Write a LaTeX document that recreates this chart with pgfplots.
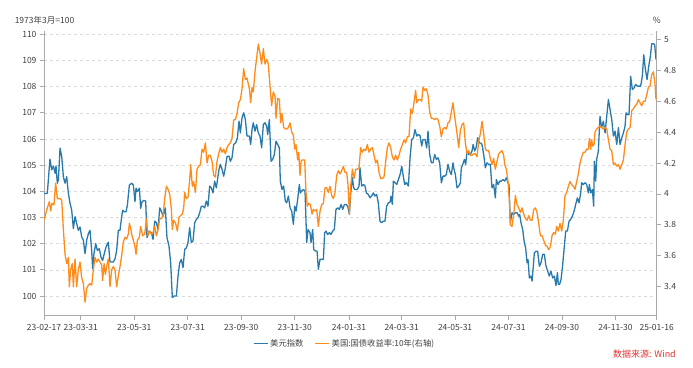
\documentclass[border=0pt]{standalone}
\usepackage{pgfplots}
\pgfplotsset{compat=1.18}
\usepackage{pgfplotstable}
\usepackage{fontspec}
\setmainfont{Noto Sans CJK SC}
\definecolor{usdblue}{RGB}{40,122,172}
\definecolor{ustorange}{RGB}{255,140,26}
\definecolor{axgray}{RGB}{170,170,170}
\definecolor{txtgray}{RGB}{64,64,64}
\definecolor{gridgray}{RGB}{218,218,218}
\definecolor{srcred}{RGB}{230,50,50}

\pgfplotstableread{
day val
0 103.92
3.8 103.92
6.8 105.23
8.8 104.82
10.7 104.97
12.6 104.69
13.7 104.97
15.2 104.31
16.4 104.44
18.3 105.65
20.2 105.33
22.1 104.56
24.0 104.31
25.9 104.56
27.8 103.92
29.7 103.54
31.6 103.28
33.5 102.58
35.4 103.03
37.3 102.77
39.2 102.51
41.1 102.64
43.0 102.26
44.9 102.13
46.8 101.62
48.7 102.13
50.6 102.38
52.5 102.51
54.4 101.74
55.5 101.04
57.0 101.62
59.0 102.00
60.9 101.74
63.1 101.81
65.0 101.49
66.9 101.36
68.8 101.62
70.7 101.87
73.4 102.06
75.3 101.30
77.2 101.30
79.1 101.30
81.0 101.42
82.9 101.74
84.8 102.51
86.7 102.51
88.6 103.03
89.8 103.28
91.3 103.22
93.6 103.22
95.1 103.47
97.4 104.24
100.0 104.31
101.9 104.24
103.8 103.60
105.0 104.12
106.5 103.99
108.8 104.12
110.3 103.35
111.8 103.60
114.0 103.65
116.0 103.63
117.5 102.23
119.8 102.48
122.5 102.42
124.4 102.16
126.3 102.86
128.2 102.80
130.1 102.54
132.0 103.37
133.9 103.24
135.8 103.05
138.4 103.37
140.3 102.23
142.6 101.91
144.5 101.27
146.4 99.94
148.3 100.00
151.0 100.00
152.9 100.76
154.8 101.27
156.7 101.40
158.6 101.08
160.5 101.78
162.4 101.84
164.3 102.04
166.2 102.61
168.1 102.04
170.0 102.10
171.9 102.80
173.8 102.93
175.7 102.99
177.6 103.18
179.5 103.43
181.4 103.43
183.3 103.37
185.2 103.63
187.1 103.43
189.0 104.20
190.9 104.13
192.8 103.94
194.7 104.39
196.6 104.13
198.5 104.58
199.7 104.84
201.2 105.03
203.1 104.84
205.0 104.58
206.9 104.90
208.8 105.34
211.1 105.34
212.6 105.15
214.5 105.28
216.4 105.79
218.7 105.85
220.6 106.04
222.5 106.68
224.0 106.23
225.9 106.81
227.8 107.00
229.7 106.74
231.6 106.11
234.3 106.11
235.8 105.79
237.3 106.36
238.8 106.62
240.7 106.30
242.6 106.55
244.5 106.23
246.4 106.11
248.3 105.66
250.2 106.55
252.1 106.62
254.0 106.49
255.2 106.17
257.1 106.74
259.0 105.15
260.9 105.22
262.8 105.41
264.7 105.92
266.6 105.79
268.5 105.66
269.6 104.39
271.5 104.07
273.4 104.20
275.3 103.63
276.9 103.56
278.8 103.82
280.7 103.37
282.6 103.24
284.5 102.74
286.0 103.43
287.5 103.24
289.4 103.69
291.3 104.26
292.5 103.94
294.0 104.01
295.9 104.07
297.8 104.01
299.7 102.04
301.2 102.54
303.5 102.42
304.6 102.04
306.5 102.54
307.7 101.78
309.6 101.72
311.5 101.72
313.0 101.02
314.9 101.40
316.8 101.40
318.7 101.40
320.2 102.42
321.7 102.48
323.6 102.35
325.5 102.42
327.4 102.35
329.3 102.48
331.2 102.54
333.1 103.31
335.0 103.37
336.9 103.31
338.9 103.50
340.8 103.31
342.7 103.50
344.6 103.50
346.5 103.43
348.4 103.12
349.9 103.94
351.8 104.52
353.3 104.13
354.8 104.07
357.5 104.07
359.4 104.20
360.5 104.90
362.4 104.20
364.7 104.26
366.2 104.20
367.8 103.94
370.0 103.88
371.9 103.75
373.8 103.82
375.7 103.94
377.6 103.82
379.5 103.88
381.4 103.56
383.3 102.86
385.2 102.80
387.1 102.86
389.0 102.86
390.9 103.43
392.9 103.56
394.8 103.58
395.9 103.82
397.4 103.50
398.6 104.39
400.5 104.33
402.4 104.26
404.3 104.45
406.2 104.64
408.1 104.96
409.6 104.64
411.5 104.26
413.4 104.33
415.7 104.20
417.6 105.28
419.5 105.98
421.4 106.04
423.3 106.36
425.2 106.11
427.1 106.17
429.0 106.13
430.9 105.73
432.4 105.98
434.7 105.98
436.6 105.66
438.1 106.30
440.0 105.41
441.9 105.09
443.8 105.09
445.7 105.41
447.6 105.22
449.5 105.28
451.4 105.09
453.3 104.33
455.2 104.58
457.1 104.58
459.0 104.64
460.9 105.03
462.8 104.77
464.7 104.64
466.6 105.09
467.4 104.90
469.3 104.64
471.2 104.13
473.1 104.20
475.0 104.32
476.1 104.90
477.7 105.03
479.6 105.22
481.1 105.03
482.6 105.54
484.5 105.41
486.4 105.41
488.3 105.54
489.5 105.79
491.4 105.54
492.9 105.66
494.8 106.05
496.7 105.85
498.2 105.85
499.7 105.79
501.6 105.41
503.5 104.90
505.4 105.09
507.3 105.03
509.2 105.03
511.1 104.13
513.0 104.26
514.9 103.75
516.1 104.45
518.0 104.26
519.9 104.39
521.8 104.39
523.7 104.45
525.6 104.39
527.5 104.52
529.4 104.32
530.5 104.26
532.0 102.80
533.9 103.18
535.9 103.11
537.8 103.18
539.7 103.18
541.6 103.05
542.7 103.11
544.2 102.80
546.1 102.54
548.0 102.03
549.5 101.84
551.1 101.27
552.2 101.39
553.7 100.69
555.6 100.76
556.8 100.57
557.9 101.01
559.4 101.65
561.3 101.71
563.2 101.71
565.1 101.14
567.0 101.27
568.9 101.59
570.8 101.59
572.7 101.14
574.6 100.95
576.5 100.76
578.4 100.95
580.3 100.69
582.2 100.76
584.1 100.40
585.7 100.89
586.8 100.45
588.3 100.45
589.9 100.64
591.4 101.08
593.3 101.78
595.2 102.48
597.1 102.48
599.0 102.86
600.9 102.93
602.8 103.05
604.7 103.24
606.6 103.50
608.5 103.75
610.4 103.56
612.3 103.94
613.4 104.33
615.3 104.26
617.2 104.33
619.1 104.26
621.0 103.94
622.2 104.26
623.7 103.94
625.6 104.07
627.1 103.43
627.9 105.15
629.4 104.39
630.5 105.22
632.4 105.53
634.3 106.87
636.2 106.43
638.1 106.68
640.1 106.23
642.0 106.87
643.9 107.51
645.8 107.12
647.7 106.74
649.6 106.11
651.5 106.30
653.4 105.79
655.3 106.43
657.2 105.79
659.1 106.04
661.0 106.23
662.9 106.49
664.0 107.00
665.9 106.93
667.4 106.93
669.3 108.40
671.2 107.89
673.1 107.95
675.0 108.08
676.9 108.02
678.8 108.02
680.7 108.02
682.6 108.40
684.2 109.22
686.1 108.65
688.0 108.27
689.9 108.78
691.8 109.16
693.3 109.64
695.2 109.64
696.7 109.60
698.2 109.03
}\usdidx

\pgfplotstableread{
day val
0 3.83
3.8 3.91
6.1 3.95
7.6 3.89
9.1 3.94
11.4 3.93
13.3 4.07
15.2 3.97
18.3 3.97
20.2 3.96
22.1 3.77
24.0 3.61
25.9 3.55
27.8 3.59
28.9 3.40
30.4 3.51
32.3 3.55
33.5 3.40
35.4 3.58
37.3 3.40
39.2 3.51
41.1 3.56
43.0 3.46
44.9 3.42
46.8 3.30
48.7 3.39
50.6 3.41
52.5 3.42
54.4 3.41
56.3 3.51
58.2 3.59
60.1 3.56
62.0 3.58
63.9 3.56
65.8 3.54
66.9 3.44
68.5 3.55
70.0 3.48
71.5 3.53
73.4 3.58
75.3 3.40
77.2 3.51
79.1 3.53
81.0 3.51
82.9 3.40
84.8 3.47
86.7 3.53
88.6 3.60
90.5 3.69
92.4 3.72
94.3 3.71
96.2 3.74
97.4 3.81
98.9 3.78
100.0 3.74
101.9 3.70
103.8 3.66
105.0 3.61
106.5 3.70
108.8 3.72
110.3 3.79
112.6 3.73
114.9 3.74
116.8 3.84
118.7 3.73
120.6 3.76
122.5 3.74
124.4 3.75
126.3 3.79
128.2 3.73
130.1 3.77
132.0 3.84
133.9 3.84
135.8 3.86
137.7 3.97
139.6 4.05
141.5 4.03
143.4 4.00
145.3 3.90
146.4 3.77
147.9 3.83
150.2 3.81
152.1 3.76
154.0 3.85
155.9 3.86
157.8 3.87
159.4 3.91
160.5 4.01
162.4 3.97
164.3 3.98
166.2 4.09
167.3 4.19
169.2 4.05
170.8 4.08
172.7 4.01
174.6 4.16
176.5 4.18
178.4 4.19
180.3 4.29
182.2 4.27
184.1 4.33
186.0 4.20
187.9 4.25
189.8 4.25
191.7 4.21
193.6 4.12
195.5 4.11
197.4 4.21
199.3 4.26
201.2 4.30
203.1 4.27
205.0 4.29
206.9 4.26
208.8 4.30
210.7 4.32
212.6 4.33
214.5 4.36
216.4 4.48
218.3 4.48
220.2 4.52
222.1 4.59
224.0 4.61
225.9 4.68
227.8 4.81
229.7 4.74
231.6 4.75
232.4 4.73
234.3 4.68
235.8 4.59
237.3 4.69
238.8 4.66
240.7 4.79
242.6 4.88
244.5 4.97
246.4 4.91
248.3 4.84
250.2 4.94
252.1 4.84
254.0 4.87
255.9 4.84
257.8 4.70
259.7 4.57
261.6 4.66
263.6 4.63
264.7 4.49
266.6 4.62
268.5 4.61
270.0 4.46
271.5 4.52
273.4 4.43
275.3 4.42
276.9 4.42
278.8 4.43
280.7 4.46
282.6 4.40
284.5 4.38
286.0 4.29
287.5 4.32
289.4 4.22
290.6 4.27
292.1 4.12
293.2 4.21
294.4 4.22
295.9 4.22
297.4 4.22
298.9 4.01
300.4 3.92
302.0 3.94
303.9 3.93
305.8 3.87
307.3 3.90
309.2 3.89
311.1 3.90
313.0 3.79
314.9 3.89
316.8 3.93
318.7 3.94
320.6 4.04
322.5 4.04
324.4 4.01
326.3 4.05
328.2 3.99
330.1 3.97
332.0 4.01
333.9 4.12
335.8 4.15
337.7 4.13
339.6 4.15
341.5 4.18
343.4 4.14
345.3 4.14
346.8 4.06
348.4 3.87
349.9 4.05
351.8 4.16
353.7 4.10
355.6 4.16
357.5 4.16
359.4 4.17
361.3 4.30
363.2 4.27
365.1 4.29
367.0 4.28
368.9 4.32
370.8 4.27
372.7 4.29
374.6 4.30
376.5 4.25
378.4 4.20
380.3 4.22
382.2 4.14
384.1 4.10
386.0 4.10
387.9 4.11
389.8 4.21
391.7 4.30
393.6 4.33
395.5 4.30
397.4 4.24
399.3 4.22
401.2 4.25
403.1 4.22
405.0 4.25
406.9 4.29
408.8 4.32
410.7 4.35
412.6 4.33
414.5 4.37
416.4 4.37
418.3 4.55
420.2 4.52
422.1 4.59
424.0 4.67
425.2 4.59
427.1 4.61
429.0 4.61
430.9 4.60
432.4 4.69
434.3 4.67
436.2 4.68
438.1 4.64
440.0 4.53
441.9 4.49
443.8 4.49
445.7 4.48
447.6 4.49
449.5 4.48
451.4 4.44
453.3 4.37
455.2 4.42
457.1 4.43
459.0 4.42
460.9 4.46
462.8 4.47
464.7 4.53
466.6 4.59
467.4 4.55
469.3 4.47
471.2 4.39
473.1 4.30
475.0 4.41
476.9 4.45
478.8 4.46
480.7 4.33
482.6 4.26
484.5 4.28
486.4 4.25
488.3 4.25
490.2 4.26
492.1 4.26
494.0 4.24
495.9 4.34
497.8 4.39
499.7 4.47
501.6 4.39
503.5 4.29
505.4 4.28
507.3 4.28
509.2 4.23
511.1 4.19
513.0 4.23
514.9 4.16
516.8 4.21
518.7 4.26
520.6 4.27
522.5 4.28
524.4 4.25
525.6 4.19
527.5 4.16
529.4 4.08
530.9 3.96
532.0 3.80
533.9 3.79
535.9 3.87
537.8 3.99
539.7 3.93
541.6 3.91
543.5 3.88
545.4 3.91
547.3 3.87
549.2 3.84
551.1 3.83
553.0 3.86
554.9 3.83
556.8 3.83
558.7 3.90
560.6 3.91
562.5 3.88
564.4 3.81
566.3 3.73
568.2 3.73
570.1 3.70
572.0 3.67
573.9 3.66
575.8 3.64
577.7 3.66
579.6 3.73
581.5 3.75
583.4 3.74
584.9 3.79
586.8 3.76
588.7 3.81
590.6 3.76
592.5 3.83
594.4 3.99
596.3 4.01
598.2 4.05
600.1 4.08
602.0 4.06
603.9 4.05
605.8 4.03
607.7 4.08
609.6 4.13
611.5 4.20
613.4 4.24
615.3 4.27
617.2 4.27
619.1 4.29
621.0 4.29
622.2 4.36
623.7 4.29
624.8 4.35
626.0 4.31
627.5 4.32
628.6 4.40
630.5 4.42
632.4 4.43
634.3 4.44
636.2 4.43
638.1 4.42
640.1 4.43
642.0 4.42
643.9 4.35
645.8 4.29
647.7 4.28
649.6 4.19
651.5 4.20
653.4 4.18
655.3 4.19
657.2 4.16
659.1 4.19
661.0 4.22
662.9 4.32
664.8 4.40
666.7 4.42
668.6 4.43
670.5 4.54
672.4 4.55
674.3 4.57
676.2 4.58
678.1 4.61
680.0 4.59
681.9 4.57
683.8 4.60
685.7 4.60
687.6 4.64
689.5 4.69
691.4 4.70
693.3 4.77
695.2 4.79
697.1 4.71
698.2 4.61
}\ustyield

\pgfplotsset{
  common/.style={
    scale only axis,
    width=612.7pt, height=284.5pt,
    at={(44pt,51.5pt)}, anchor=south west,
    xmin=0, xmax=699,
    axis line style={axgray, line width=1pt},
    tick style={axgray, line width=0.8pt},
    major tick length=4pt,
    tick align=outside,
    tick label style={font=\fontsize{8.5}{10}\selectfont, text=txtgray},
    /pgf/number format/assume math mode=true,
    legend image code/.code={\draw[#1] (0pt,0pt) -- (14pt,0pt);},
  }
}

\begin{document}
\begin{tikzpicture}
\useasboundingbox (0,0) rectangle (693pt,367pt);
\begin{axis}[
  common,
  axis x line*=bottom, axis y line*=left,
  ymin=99.255, ymax=110.126,
  ytick={100,101,...,110},
  xtick={0,42,103,164,225,286,348,408,469,530,591,652,699},
  xticklabels={23-02-17,23-03-31,23-05-31,23-07-31,23-09-30,23-11-30,24-01-31,24-03-31,24-05-31,24-07-31,24-09-30,24-11-30,25-01-16},
  ymajorgrids,
  major grid style={gridgray, dashed, line width=0.6pt},
  xticklabel style={yshift=-1pt},
  legend style={at={(0.4905,-0.0977)}, anchor=center, draw=none, fill=none,
    font=\fontsize{8.3}{10}\selectfont, text=txtgray,
    legend columns=2, /tikz/every even column/.append style={column sep=9pt},
    inner sep=0pt},
  legend cell align=left,
]
\addplot[usdblue, line width=1.3pt, line join=round] table[x=day, y=val] {\usdidx};
\addlegendentry{美元指数}
\addlegendimage{ustorange, line width=1.3pt}
\addlegendentry{美国:国债收益率:10年(右轴)}
\end{axis}
\begin{axis}[
  common,
  axis x line=none, axis y line*=right,
  ymin=3.214, ymax=5.054,
  ytick={3.4,3.6,...,5.01},
  yticklabel style={/pgf/number format/fixed},
]
\addplot[ustorange, line width=1.3pt, line join=round] table[x=day, y=val] {\ustyield};
\end{axis}
\node[font=\fontsize{8.5}{10}\selectfont, text=txtgray] at (44.5pt,347pt) {1973年3月=100};
\node[font=\fontsize{8.5}{10}\selectfont, text=txtgray] at (656.7pt,347pt) {\%};
\node[font=\fontsize{9}{10}\selectfont, text=srcred] at (644.5pt,13pt) {数据来源: Wind};
\end{tikzpicture}
\end{document}
